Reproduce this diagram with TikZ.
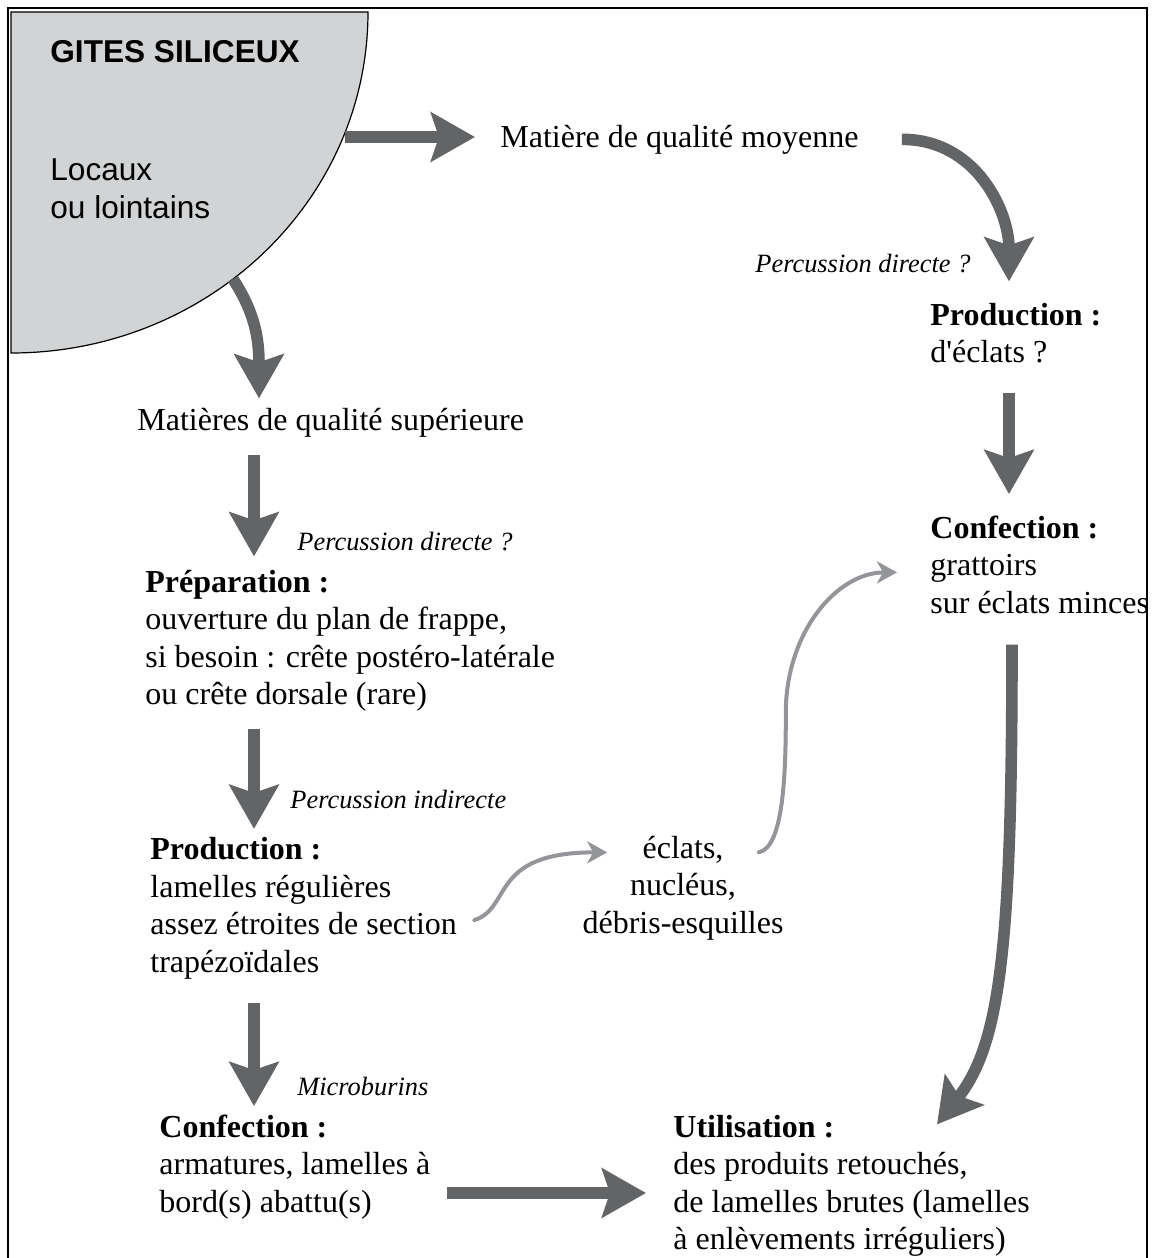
\documentclass[tikz,border=0pt]{standalone}
\usepackage{fontspec}
\setmainfont{Liberation Serif}
\setsansfont{Liberation Sans}
\usepackage{tikz}
\usetikzlibrary{arrows.meta, positioning, calc}
\definecolor{flechegris}{HTML}{636466}
\definecolor{flecheclair}{HTML}{939598}
\definecolor{gitegris}{HTML}{D1D3D4}

\begin{document}
\begin{tikzpicture}[
    x=0.5pt, y=-0.5pt,
    txt/.style={anchor=base west, inner sep=0pt, align=left,
                font=\fontsize{16}{18.75}\selectfont},
    proc/.style={anchor=base west, inner sep=0pt,
                 font=\fontsize{13.2}{15}\selectfont\itshape},
    sans/.style={anchor=base west, inner sep=0pt, align=left,
                 font=\sffamily\fontsize{15.8}{19}\selectfont},
    fleche/.style={draw=flechegris, line width=5.8pt,
                   -{Stealth[length=22pt, width=24.5pt, inset=4pt]}},
    flechefine/.style={draw=flecheclair, line width=2pt, line cap=round,
                       -{Stealth[length=10pt, width=11pt, inset=3pt]}}
  ]
    \useasboundingbox (0,0) rectangle (1153,1258);

    % frame
    \draw[line width=1.3pt] (8,1270) -- (8,8) -- (1147,8) -- (1147,1270);

    % gites (multi-line nodes sit on their last baseline)
    \path[draw=black, line width=0.6pt, fill=gitegris]
      (11,12) -- (368,12) arc[start angle=0, end angle=90,
      x radius=357, y radius=341] -- cycle;
    \node[sans, font=\sffamily\bfseries\fontsize{15.8}{19}\selectfont]
      (titre) at (50,62) {GITES SILICEUX};
    \node[sans] (locaux) at (50,218) {Locaux\\ou lointains};
    \coordinate (gitesE) at (345,137);
    \coordinate (gitesS) at (233,279);
    \coordinate (colL) at (254,0);
    \coordinate (colR) at (1009,0);
    \coordinate (bas) at (0,1193);

    % right branch
    \node[txt] (moyenne) at (500,147) {Matière de qualité moyenne};
    \node[proc] (percA) at (755,272) {Percussion directe ?};
    \node[txt] (prodB) at (930,362.5)
      {\textbf{Production :}\\d\textquotesingle éclats ?};
    \node[txt] (confB) at (930,613)
      {\textbf{Confection :}\\grattoirs\\sur éclats minces};

    % left branch
    \node[txt] (superieure) at (137,430) {Matières de qualité supérieure};
    \node[proc] (percD) at (297,550) {Percussion directe ?};
    \node[txt] (prep) at (145,704.5)
      {\textbf{Préparation :}\\ouverture du plan de frappe,\\
       si besoin : crête postéro-latérale\\ou crête dorsale (rare)};
    \node[proc] (percI) at (290,808) {Percussion indirecte};
    \node[txt] (prodL) at (150,972)
      {\textbf{Production :}\\lamelles régulières\\
       assez étroites de section\\trapézoïdales};
    \node[proc] (micro) at (297,1095) {Microburins};
    \node[txt] (confL) at (159,1212)
      {\textbf{Confection :}\\armatures, lamelles à\\bord(s) abattu(s)};

    % waste and use
    \node[txt, align=center, anchor=base] (dechets) at (683,933)
      {éclats,\\nucléus,\\débris-esquilles};
    \node[txt] (util) at (673,1249.5)
      {\textbf{Utilisation :}\\des produits retouchés,\\
       de lamelles brutes (lamelles\\à enlèvements irréguliers)};

    % Arrows
    \draw[fleche, shorten >=12.5pt] (gitesE) -- (gitesE -| moyenne.west);
    \draw[fleche, shorten >=10.5pt] ($(moyenne.east)+(43,0)$)
      .. controls +(75,0) and +(0,-90) .. (prodB.north -| colR);
    \draw[fleche, shorten <=15pt, shorten >=10.5pt]
      (prodB.south -| colR) -- (confB.north -| colR);
    \draw[fleche] ($(confB.south -| colR)+(3,31)$)
      .. controls +(0,305) and +(63,-80) .. ($(util.north west)+(264,10)$);
    \draw[fleche, shorten <=8pt, shorten >=13.5pt]
      (confL.east |- bas) -- (util.west |- bas);

    \draw[fleche] (gitesS) .. controls +(22,34) and +(0,-60)
      .. ($(superieure.north west)+(122,-9)$);
    \draw[fleche, shorten <=9pt, shorten >=6.5pt]
      (superieure.south -| colL) -- (prep.north -| colL);
    \draw[fleche, shorten <=8.5pt, shorten >=4pt]
      (prep.south -| colL) -- (prodL.north -| colL);
    \draw[fleche, shorten <=12pt, shorten >=4pt]
      (prodL.south -| colL) -- (confL.north -| colL);

    \draw[flechefine] ($(prodL.east)+(17,12)$)
      .. controls +(38,-12) and +(-118,0) .. ($(dechets.north west)+(25,17)$);
    \draw[flechefine] ($(dechets.north east)+(-25,17)$)
      .. controls +(25,-5) and +(0,60) .. ++(27,-140)
      .. controls +(0,-80) and +(-60,0) .. ($(confB.west)+(-33,8)$);
  \end{tikzpicture}
\end{document}
